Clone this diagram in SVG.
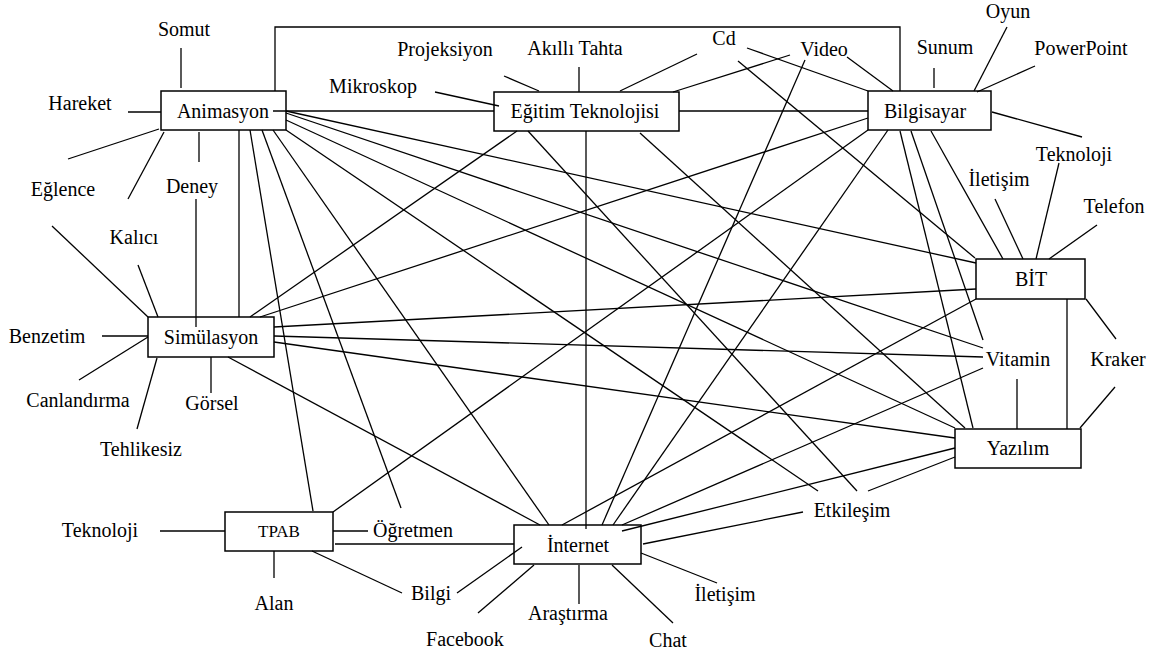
<svg xmlns="http://www.w3.org/2000/svg" width="1161" height="655" viewBox="0 0 1161 655">
  <style>
    .box { fill: #ffffff; stroke: #000000; stroke-width: 1.5; }
    .t { font-family: "Liberation Serif", "Times New Roman", serif; font-size: 20px; fill: #000000; text-anchor: middle; }
    .small { font-size: 17px; }
    #connectors line, #connectors path { stroke: #000000; stroke-width: 1.3; fill: none; }
  </style>
  <rect width="1161" height="655" fill="#ffffff"/>

  <!-- main concept boxes -->
  <g id="node-animasyon"><rect class="box" x="161" y="91" width="125" height="39"/><text class="t" x="223" y="118">Animasyon</text></g>
  <g id="node-egitim"><rect class="box" x="494" y="92" width="185" height="39"/><text class="t" x="585" y="118">Eğitim Teknolojisi</text></g>
  <g id="node-bilgisayar"><rect class="box" x="868" y="91" width="123" height="39"/><text class="t" x="925" y="118">Bilgisayar</text></g>
  <g id="node-bit"><rect class="box" x="976" y="259" width="109" height="40"/><text class="t" x="1031" y="286">BİT</text></g>
  <g id="node-yazilim"><rect class="box" x="955" y="429" width="126" height="39"/><text class="t" x="1018" y="455">Yazılım</text></g>
  <g id="node-simulasyon"><rect class="box" x="148" y="317" width="126" height="40"/><text class="t" x="211" y="344">Simülasyon</text></g>
  <g id="node-tpab"><rect class="box" x="225" y="512" width="108" height="39"/><text class="t small" x="279" y="537">TPAB</text></g>
  <g id="node-internet"><rect class="box" x="514" y="525" width="127" height="39"/><text class="t" x="578" y="552">İnternet</text></g>

  <!-- free-standing concept words -->
  <g id="node-somut"><text class="t" x="184" y="36">Somut</text></g>
  <g id="node-hareket"><text class="t" x="80" y="110">Hareket</text></g>
  <g id="node-eglence"><text class="t" x="63" y="196">Eğlence</text></g>
  <g id="node-deney"><text class="t" x="192" y="193">Deney</text></g>
  <g id="node-kalici"><text class="t" x="134" y="244">Kalıcı</text></g>
  <g id="node-benzetim"><text class="t" x="47" y="343">Benzetim</text></g>
  <g id="node-canlandirma"><text class="t" x="78" y="407">Canlandırma</text></g>
  <g id="node-gorsel"><text class="t" x="212" y="410">Görsel</text></g>
  <g id="node-tehlikesiz"><text class="t" x="141" y="456">Tehlikesiz</text></g>
  <g id="node-teknoloji-1"><text class="t" x="100" y="537">Teknoloji</text></g>
  <g id="node-ogretmen"><text class="t" x="413" y="537">Öğretmen</text></g>
  <g id="node-alan"><text class="t" x="274" y="610">Alan</text></g>
  <g id="node-bilgi"><text class="t" x="431" y="600">Bilgi</text></g>
  <g id="node-facebook"><text class="t" x="465" y="646">Facebook</text></g>
  <g id="node-arastirma"><text class="t" x="568" y="620">Araştırma</text></g>
  <g id="node-chat"><text class="t" x="668" y="647">Chat</text></g>
  <g id="node-iletisim-1"><text class="t" x="725" y="601">İletişim</text></g>
  <g id="node-etkilesim"><text class="t" x="852" y="517">Etkileşim</text></g>
  <g id="node-vitamin"><text class="t" x="1018" y="366">Vitamin</text></g>
  <g id="node-kraker"><text class="t" x="1118" y="366">Kraker</text></g>
  <g id="node-iletisim-2"><text class="t" x="999" y="186">İletişim</text></g>
  <g id="node-teknoloji-2"><text class="t" x="1074" y="161">Teknoloji</text></g>
  <g id="node-telefon"><text class="t" x="1114" y="213">Telefon</text></g>
  <g id="node-oyun"><text class="t" x="1008" y="18">Oyun</text></g>
  <g id="node-powerpoint"><text class="t" x="1081" y="55">PowerPoint</text></g>
  <g id="node-sunum"><text class="t" x="945" y="54">Sunum</text></g>
  <g id="node-video"><text class="t" x="824" y="56">Video</text></g>
  <g id="node-cd"><text class="t" x="724" y="45">Cd</text></g>
  <g id="node-akilli-tahta"><text class="t" x="575" y="55">Akıllı Tahta</text></g>
  <g id="node-projeksiyon"><text class="t" x="445" y="56">Projeksiyon</text></g>
  <g id="node-mikroskop"><text class="t" x="373" y="93">Mikroskop</text></g>

  <g id="connectors">
    <!-- bracket over the top: Animasyon to Bilgisayar -->
    <path d="M275,91 V27 H900 V91"/>

    <!-- Animasyon -->
    <line x1="181" y1="48" x2="181" y2="88"/>
    <line x1="128" y1="112" x2="161" y2="112"/>
    <line x1="68" y1="159" x2="159" y2="129"/>
    <line x1="128" y1="199" x2="164" y2="132"/>
    <line x1="199" y1="132" x2="199" y2="162"/>
    <line x1="273" y1="111" x2="494" y2="111"/>
    <line x1="286" y1="111" x2="976" y2="263"/>
    <line x1="286" y1="113" x2="983" y2="348"/>
    <line x1="286" y1="120" x2="955" y2="428"/>
    <line x1="286" y1="130" x2="818" y2="491"/>
    <line x1="273" y1="130" x2="549" y2="525"/>
    <line x1="262" y1="130" x2="401" y2="508"/>
    <line x1="250" y1="130" x2="313" y2="511"/>
    <line x1="239" y1="130" x2="239" y2="317"/>

    <!-- Eğitim Teknolojisi -->
    <line x1="435" y1="92" x2="499" y2="106"/>
    <line x1="504" y1="76" x2="539" y2="91"/>
    <line x1="579" y1="67" x2="579" y2="92"/>
    <line x1="697" y1="54" x2="620" y2="91"/>
    <line x1="790" y1="55" x2="673" y2="92"/>
    <line x1="679" y1="111" x2="868" y2="111"/>
    <line x1="517" y1="131" x2="250" y2="317"/>
    <line x1="528" y1="131" x2="857" y2="491"/>
    <line x1="586" y1="131" x2="586" y2="529"/>
    <line x1="640" y1="133" x2="965" y2="428"/>

    <!-- Bilgisayar -->
    <line x1="747" y1="48" x2="868" y2="91"/>
    <line x1="847" y1="57" x2="893" y2="91"/>
    <line x1="934" y1="68" x2="934" y2="88"/>
    <line x1="1007" y1="27" x2="974" y2="91"/>
    <line x1="1035" y1="66" x2="977" y2="92"/>
    <line x1="992" y1="112" x2="1082" y2="137"/>
    <line x1="868" y1="118" x2="260" y2="317"/>
    <line x1="868" y1="130" x2="333" y2="512"/>
    <line x1="888" y1="130" x2="613" y2="525"/>
    <line x1="900" y1="131" x2="973" y2="428"/>
    <line x1="911" y1="131" x2="983" y2="340"/>
    <line x1="931" y1="131" x2="1003" y2="259"/>

    <!-- Cd and Video -->
    <line x1="738" y1="61" x2="975" y2="258"/>
    <line x1="805" y1="60" x2="602" y2="525"/>

    <!-- BİT -->
    <line x1="995" y1="199" x2="1023" y2="259"/>
    <line x1="1059" y1="163" x2="1036" y2="259"/>
    <line x1="1097" y1="225" x2="1049" y2="259"/>
    <line x1="1086" y1="299" x2="1116" y2="339"/>
    <line x1="1067" y1="299" x2="1067" y2="429"/>
    <line x1="274" y1="327" x2="976" y2="289"/>
    <line x1="562" y1="525" x2="976" y2="299"/>

    <!-- Vitamin -->
    <line x1="274" y1="336" x2="983" y2="357"/>
    <line x1="622" y1="525" x2="983" y2="368"/>
    <line x1="1017" y1="379" x2="1017" y2="429"/>

    <!-- Yazılım -->
    <line x1="1115" y1="387" x2="1080" y2="428"/>
    <line x1="274" y1="342" x2="955" y2="438"/>
    <line x1="622" y1="531" x2="955" y2="448"/>
    <line x1="868" y1="491" x2="955" y2="457"/>

    <!-- Simülasyon -->
    <line x1="52" y1="226" x2="148" y2="317"/>
    <line x1="138" y1="265" x2="158" y2="317"/>
    <line x1="196" y1="199" x2="196" y2="327"/>
    <line x1="102" y1="336" x2="148" y2="336"/>
    <line x1="79" y1="380" x2="148" y2="337"/>
    <line x1="137" y1="429" x2="157" y2="358"/>
    <line x1="211" y1="357" x2="211" y2="393"/>
    <line x1="228" y1="357" x2="540" y2="525"/>

    <!-- TPAB -->
    <line x1="160" y1="531" x2="225" y2="531"/>
    <line x1="333" y1="531" x2="368" y2="531"/>
    <line x1="274" y1="551" x2="274" y2="578"/>
    <line x1="312" y1="551" x2="402" y2="593"/>
    <line x1="335" y1="544" x2="514" y2="544"/>

    <!-- İnternet -->
    <line x1="522" y1="547" x2="457" y2="593"/>
    <line x1="534" y1="565" x2="478" y2="613"/>
    <line x1="579" y1="565" x2="579" y2="604"/>
    <line x1="612" y1="565" x2="673" y2="623"/>
    <line x1="641" y1="553" x2="717" y2="583"/>
    <line x1="643" y1="544" x2="803" y2="512"/>
  </g>
</svg>
